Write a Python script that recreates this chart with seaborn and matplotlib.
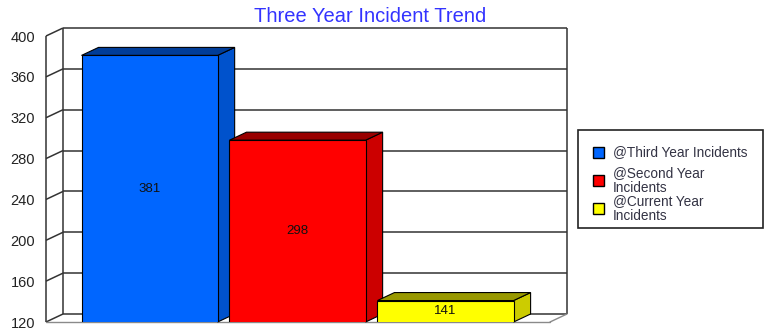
import numpy as np
import pandas as pd
import matplotlib
matplotlib.use("Agg")
import matplotlib.pyplot as plt
import matplotlib.colors as mcolors
from matplotlib.patches import Polygon, Rectangle
import seaborn as sns

# Incident counts per reporting year
series = ["@Third Year Incidents", "@Second Year Incidents", "@Current Year Incidents"]
legend_labels = ["@Third Year Incidents", "@Second Year\nIncidents", "@Current Year\nIncidents"]
values = [381, 298, 141]
front_colors = ["#0066FF", "#FF0000", "#FFFF00"]
y_ticks = [120, 160, 200, 240, 280, 320, 360, 400]
title = "Three Year Incident Trend"

sns.set_theme(style="white")
plt.rcParams["font.family"] = ["Liberation Sans", "DejaVu Sans"]

W, H = 764, 329
fig = plt.figure(figsize=(W / 100, H / 100), dpi=100)
fig.patch.set_facecolor("white")
ax = fig.add_axes([46 / W, 1 - 322 / H, 504 / W, 286 / H])
ax.set_facecolor("none")

df = pd.DataFrame({"series": series, "value": values})
sns.barplot(data=df, x="series", y="value", hue="series", palette=front_colors,
            saturation=1, width=0.92, edgecolor="black", linewidth=0.8,
            legend=False, ax=ax, zorder=3)

y_lo, y_hi = y_ticks[0], y_ticks[-1]
x_lo, x_hi = -0.70, 2.706
ax.set_xlim(x_lo, x_hi)
ax.set_ylim(y_lo, y_hi)
ax.set_xticks([])
ax.set_yticks(y_ticks)
ax.set_xlabel("")
ax.set_ylabel("")
for s in ax.spines.values():
    s.set_visible(False)
ax.tick_params(axis="y", length=0, pad=8, labelsize=10.5, labelcolor="#222222")

# depth offset of the pseudo-3D box, converted from pixels to data units
px_x = ax.bbox.width / (x_hi - x_lo)
px_y = ax.bbox.height / (y_hi - y_lo)
dx = 17 / px_x
dy = 8 / px_y

grid_kw = dict(color="#333333", lw=1.1, clip_on=False, zorder=1, solid_capstyle="butt")
# back wall: gridlines and outline
for v in y_ticks:
    ax.plot([x_lo + dx, x_hi + dx], [v + dy, v + dy], **grid_kw)
    # left wall slanted lines
    ax.plot([x_lo, x_lo + dx], [v, v + dy], **grid_kw)
ax.plot([x_lo + dx, x_lo + dx], [y_lo + dy, y_hi + dy], **grid_kw)
ax.plot([x_hi + dx, x_hi + dx], [y_lo + dy, y_hi + dy], **grid_kw)
ax.plot([x_lo, x_lo], [y_lo, y_hi], **grid_kw)
# floor front and right edges
floor_kw = dict(color="#8a8a8a", lw=1.0, clip_on=False, zorder=1)
ax.plot([x_lo, x_hi], [y_lo, y_lo], **floor_kw)
ax.plot([x_hi, x_hi + dx], [y_lo, y_lo + dy], **floor_kw)

# side and top faces of each bar, plus value labels
for bar, v, c in zip(ax.patches, values, front_colors):
    x0 = bar.get_x()
    x1 = x0 + bar.get_width()
    rgb = np.array(mcolors.to_rgb(c))
    side = Polygon([(x1, y_lo), (x1, v), (x1 + dx, v + dy), (x1 + dx, y_lo + dy)],
                   closed=True, facecolor=rgb * 0.8, edgecolor="black", lw=0.8,
                   zorder=2.9, clip_on=False)
    top = Polygon([(x0, v), (x1, v), (x1 + dx, v + dy), (x0 + dx, v + dy)],
                  closed=True, facecolor=rgb * 0.6, edgecolor="black", lw=0.8,
                  zorder=2.9, clip_on=False)
    ax.add_patch(side)
    ax.add_patch(top)
    ax.text((x0 + x1) / 2, (y_lo + v) / 2, f"{v}", ha="center", va="center",
            fontsize=9.5, color="#111111", zorder=4)

fig.text(370.5 / W, 1 - 16 / H, title, ha="center", va="center",
         fontsize=14.5, color="#3333FF")

# legend box
lx0, ly0, lx1, ly1 = 578, 130, 763, 228
fig.patches.append(Rectangle((lx0 / W, 1 - ly1 / H), (lx1 - lx0) / W, (ly1 - ly0) / H,
                             transform=fig.transFigure, facecolor="white",
                             edgecolor="#222222", lw=1.2))
entry_y = [152.5, 180.5, 208.5]
sq = 11
for lab, c, ey in zip(legend_labels, front_colors, entry_y):
    fig.patches.append(Rectangle((593 / W, 1 - (ey + sq / 2) / H), sq / W, sq / H,
                                 transform=fig.transFigure, facecolor=c,
                                 edgecolor="black", lw=1.0))
    fig.text(613 / W, 1 - ey / H, lab, ha="left", va="center", fontsize=9.8,
             color="#333344", linespacing=1.0)

fig.savefig("out.png", dpi=100)
